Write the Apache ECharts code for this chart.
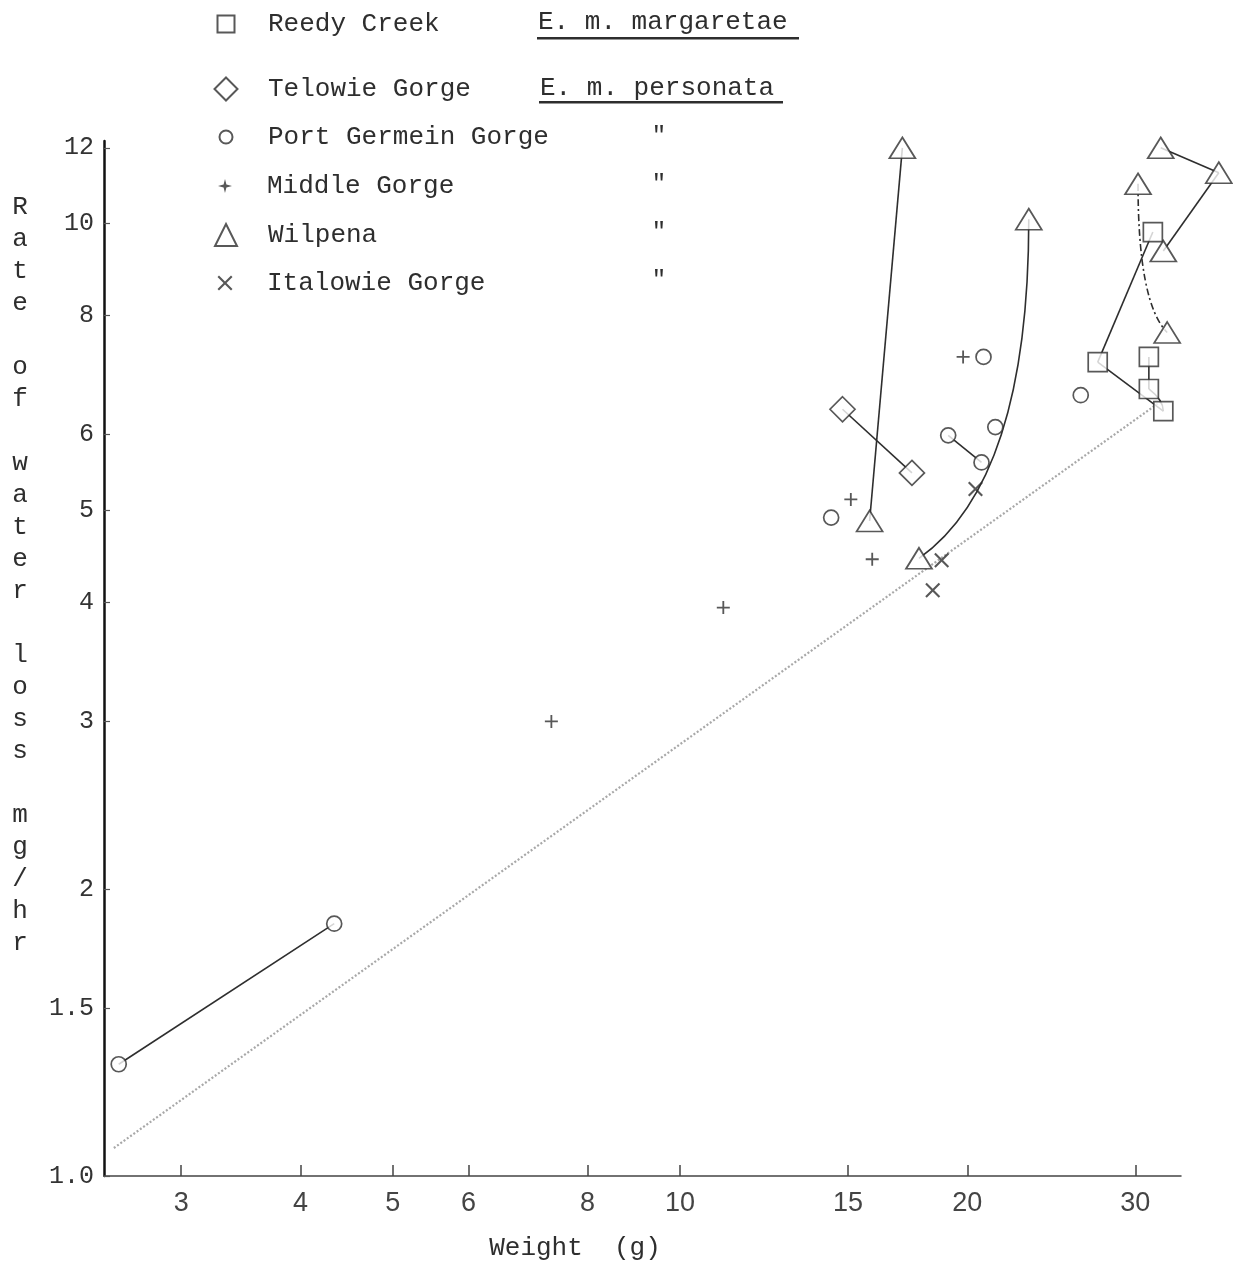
<!DOCTYPE html>
<html><head><meta charset="utf-8">
<script src="https://cdn.jsdelivr.net/npm/echarts@6/dist/echarts.min.js"></script>
<style>html,body{margin:0;padding:0;background:#fff}#c{width:1233px;height:1278px}</style>
</head><body><div id="c"></div>
<script>
// ---- data ----
const xTicks = [3, 4, 5, 6, 8, 10, 15, 20, 30];
const yTicks = [1, 1.5, 2, 3, 4, 5, 6, 8, 10, 12];
const seriesNames = ['Reedy Creek', 'Telowie Gorge', 'Port Germein Gorge', 'Middle Gorge', 'Wilpena', 'Italowie Gorge'];
const subspecies = ['E. m. margaretae', 'E. m. personata', '"', '"', '"', '"'];
const reedyCreek = [[31.3, 9.79], [27.4, 7.15], [32.1, 6.35], [31.0, 7.24], [31.0, 6.70]];
const telowieGorge = [[14.8, 6.38], [17.5, 5.47]];
const portGermeinGorge = [[2.58, 1.31], [4.34, 1.84], [14.4, 4.91], [19.1, 5.99], [20.7, 5.61], [20.8, 7.24], [21.4, 6.11], [26.3, 6.60]];
const middleGorge = [[19.8, 7.24], [15.1, 5.13], [15.9, 4.44], [11.1, 3.95], [7.33, 3.0]];
const wilpena = [[17.1, 12.0], [15.8, 4.87], [23.2, 10.1], [17.8, 4.45], [30.2, 11.0], [31.9, 12.0], [36.7, 11.3], [32.1, 9.35], [32.4, 7.68]];
const italowieGorge = [[20.4, 5.26], [18.8, 4.43], [18.4, 4.12]];
const regressionLine = [[2.55, 1.07], [31.9, 6.5]];
// connections between points of the same population: [population, fromIndex, toIndex]
const links = [
  ['portGermeinGorge', 0, 1], ['portGermeinGorge', 3, 4], ['telowieGorge', 0, 1],
  ['wilpena', 1, 0], ['wilpena', 3, 2], ['wilpena', 5, 6], ['wilpena', 6, 7], ['wilpena', 4, 8],
  ['reedyCreek', 0, 1], ['reedyCreek', 1, 2], ['reedyCreek', 3, 4], ['reedyCreek', 4, 2]
];

// ---- styling ----
const pops = { reedyCreek, telowieGorge, portGermeinGorge, middleGorge, wilpena, italowieGorge };
const linkStyle = {
  4: { bend: 'endX', k: 0.23 },
  7: { bend: 'startX', k: 0.8, dash: [7, 3, 2, 3] },
  11: { bend: 'endX', k: 0.5 }
};
const INK = '#2e2e2e';
const MONO = '"Liberation Mono", "DejaVu Sans Mono", monospace';
const plusPath = 'path://M4.3,0H5.7V4.3H10V5.7H5.7V10H4.3V5.7H0V4.3H4.3Z';
const crossPath = 'path://M0,1L1,0L5,4L9,0L10,1L6,5L10,9L9,10L5,6L1,10L0,9L4,5Z';
const starPath = 'path://M5,0L6,4L10,5L6,6L5,10L4,6L0,5L4,4Z';
const hollow = { color: '#fff', borderColor: INK, borderWidth: 1.7 };
const solid = { color: INK, borderWidth: 0 };

// legend layout (one row per legend component)
const legendRowY = [24, 89, 137, 186, 235, 283];
const legendIconSize = [17, 23, 13, 14, 22, 15];
const legendIcons = [null, null, null, starPath, null, null];
const dittoY = [0, 0, 137, 185, 233, 281];

const linkData = links.map(l => {
  const a = pops[l[0]][l[1]], b = pops[l[0]][l[2]];
  return [a[0], a[1], b[0], b[1]];
});

function scatter(name, data, symbol, size, style) {
  return {
    name, type: 'scatter', data, symbol, symbolSize: size,
    itemStyle: style, clip: false, z: 4, emphasis: { disabled: true }, animation: false
  };
}

const legends = seriesNames.map((name, i) => {
  const s = legendIconSize[i];
  const left = 225 - s / 2;
  const item = legendIcons[i] ? { name, icon: legendIcons[i] } : { name };
  return {
    data: [item], orient: 'vertical', left, top: legendRowY[i] - 15, selectedMode: false,
    itemWidth: s, itemHeight: s, itemGap: 0, padding: 0,
    textStyle: { fontFamily: MONO, fontSize: 26, color: INK, lineHeight: 30, padding: [0, 0, 0, 267 - (left + s + 5)] }
  };
});

const graphics = [
  { type: 'text', x: 538, y: 22, style: { text: subspecies[0], font: '26px ' + MONO, fill: INK, verticalAlign: 'middle' } },
  { type: 'rect', shape: { x: 537, y: 37, width: 262, height: 2.5 }, style: { fill: INK } },
  { type: 'text', x: 540, y: 88, style: { text: subspecies[1], font: '26px ' + MONO, fill: INK, verticalAlign: 'middle' } },
  { type: 'rect', shape: { x: 539, y: 101, width: 244, height: 2.5 }, style: { fill: INK } },
  {
    type: 'text', x: 20, y: 191,
    style: { text: 'Rate of water loss mg/hr'.split('').join('\n'), font: '26px ' + MONO, lineHeight: 32, fill: INK, align: 'center', verticalAlign: 'top' }
  },
  { type: 'text', x: 575, y: 1248, style: { text: 'Weight  (g)', font: '26px ' + MONO, fill: INK, align: 'center', verticalAlign: 'middle' } }
];
for (let i = 2; i < subspecies.length; i++) {
  graphics.push({ type: 'text', x: 659, y: dittoY[i], style: { text: subspecies[i], font: '24px ' + MONO, fill: INK, align: 'center', verticalAlign: 'middle' } });
}

const chart = echarts.init(document.getElementById('c'), null, { renderer: 'canvas' });
chart.setOption({
  animation: false,
  backgroundColor: '#fff',
  grid: { left: 104, width: 1077, top: 141, height: 1035 },
  xAxis: {
    type: 'log', min: 2.49, max: 33.5, logBase: 10,
    axisLine: { lineStyle: { color: '#444', width: 1.5 } },
    axisTick: { inside: true, length: 11, customValues: xTicks, lineStyle: { color: '#444', width: 1.5 } },
    axisLabel: {
      customValues: xTicks, margin: 14, color: '#444',
      fontFamily: '"Liberation Sans Narrow", "Liberation Sans", sans-serif', fontSize: 27,
      formatter: v => String(Math.round(v * 10) / 10)
    },
    splitLine: { show: false }, minorTick: { show: false }
  },
  yAxis: {
    type: 'log', min: 1, max: 12.2, logBase: 10,
    axisLine: { lineStyle: { color: '#111', width: 2.5 } },
    axisTick: { inside: true, length: 6, customValues: yTicks, lineStyle: { color: '#555', width: 1.2 } },
    axisLabel: {
      customValues: yTicks, margin: 10, color: '#333', fontFamily: MONO, fontSize: 25,
      formatter: v => { const r = Math.round(v * 10) / 10; return r === 1 ? '1.0' : String(r); }
    },
    splitLine: { show: false }, minorTick: { show: false }
  },
  legend: legends,
  graphic: graphics,
  series: [
    {
      name: 'regression', type: 'line', data: regressionLine, symbol: 'none', clip: false, z: 1,
      lineStyle: { color: '#a8a8a8', width: 2.2, type: [2, 2] }, silent: true
    },
    {
      name: 'links', type: 'custom', data: linkData, z: 2, clip: false, silent: true,
      encode: { x: [0, 2], y: [1, 3] },
      renderItem: (params, api) => {
        const p1 = api.coord([api.value(0), api.value(1)]);
        const p2 = api.coord([api.value(2), api.value(3)]);
        const st = linkStyle[params.dataIndex] || {};
        const style = { stroke: INK, lineWidth: 1.6, fill: null, lineDash: st.dash || null };
        if (st.bend === 'endX') {
          return { type: 'bezierCurve', shape: { x1: p1[0], y1: p1[1], x2: p2[0], y2: p2[1], cpx1: p2[0], cpy1: p1[1] + st.k * (p2[1] - p1[1]) }, style };
        }
        if (st.bend === 'startX') {
          return { type: 'bezierCurve', shape: { x1: p1[0], y1: p1[1], x2: p2[0], y2: p2[1], cpx1: p1[0], cpy1: p1[1] + st.k * (p2[1] - p1[1]) }, style };
        }
        return { type: 'line', shape: { x1: p1[0], y1: p1[1], x2: p2[0], y2: p2[1] }, style };
      }
    },
    scatter(seriesNames[0], reedyCreek, 'rect', 19, hollow),
    scatter(seriesNames[1], telowieGorge, 'diamond', 25, hollow),
    scatter(seriesNames[2], portGermeinGorge, 'circle', 15, hollow),
    scatter(seriesNames[3], middleGorge, plusPath, 13, solid),
    scatter(seriesNames[4], wilpena, 'triangle', [26, 21], hollow),
    scatter(seriesNames[5], italowieGorge, crossPath, 15, solid)
  ]
});
</script>
</body></html>
